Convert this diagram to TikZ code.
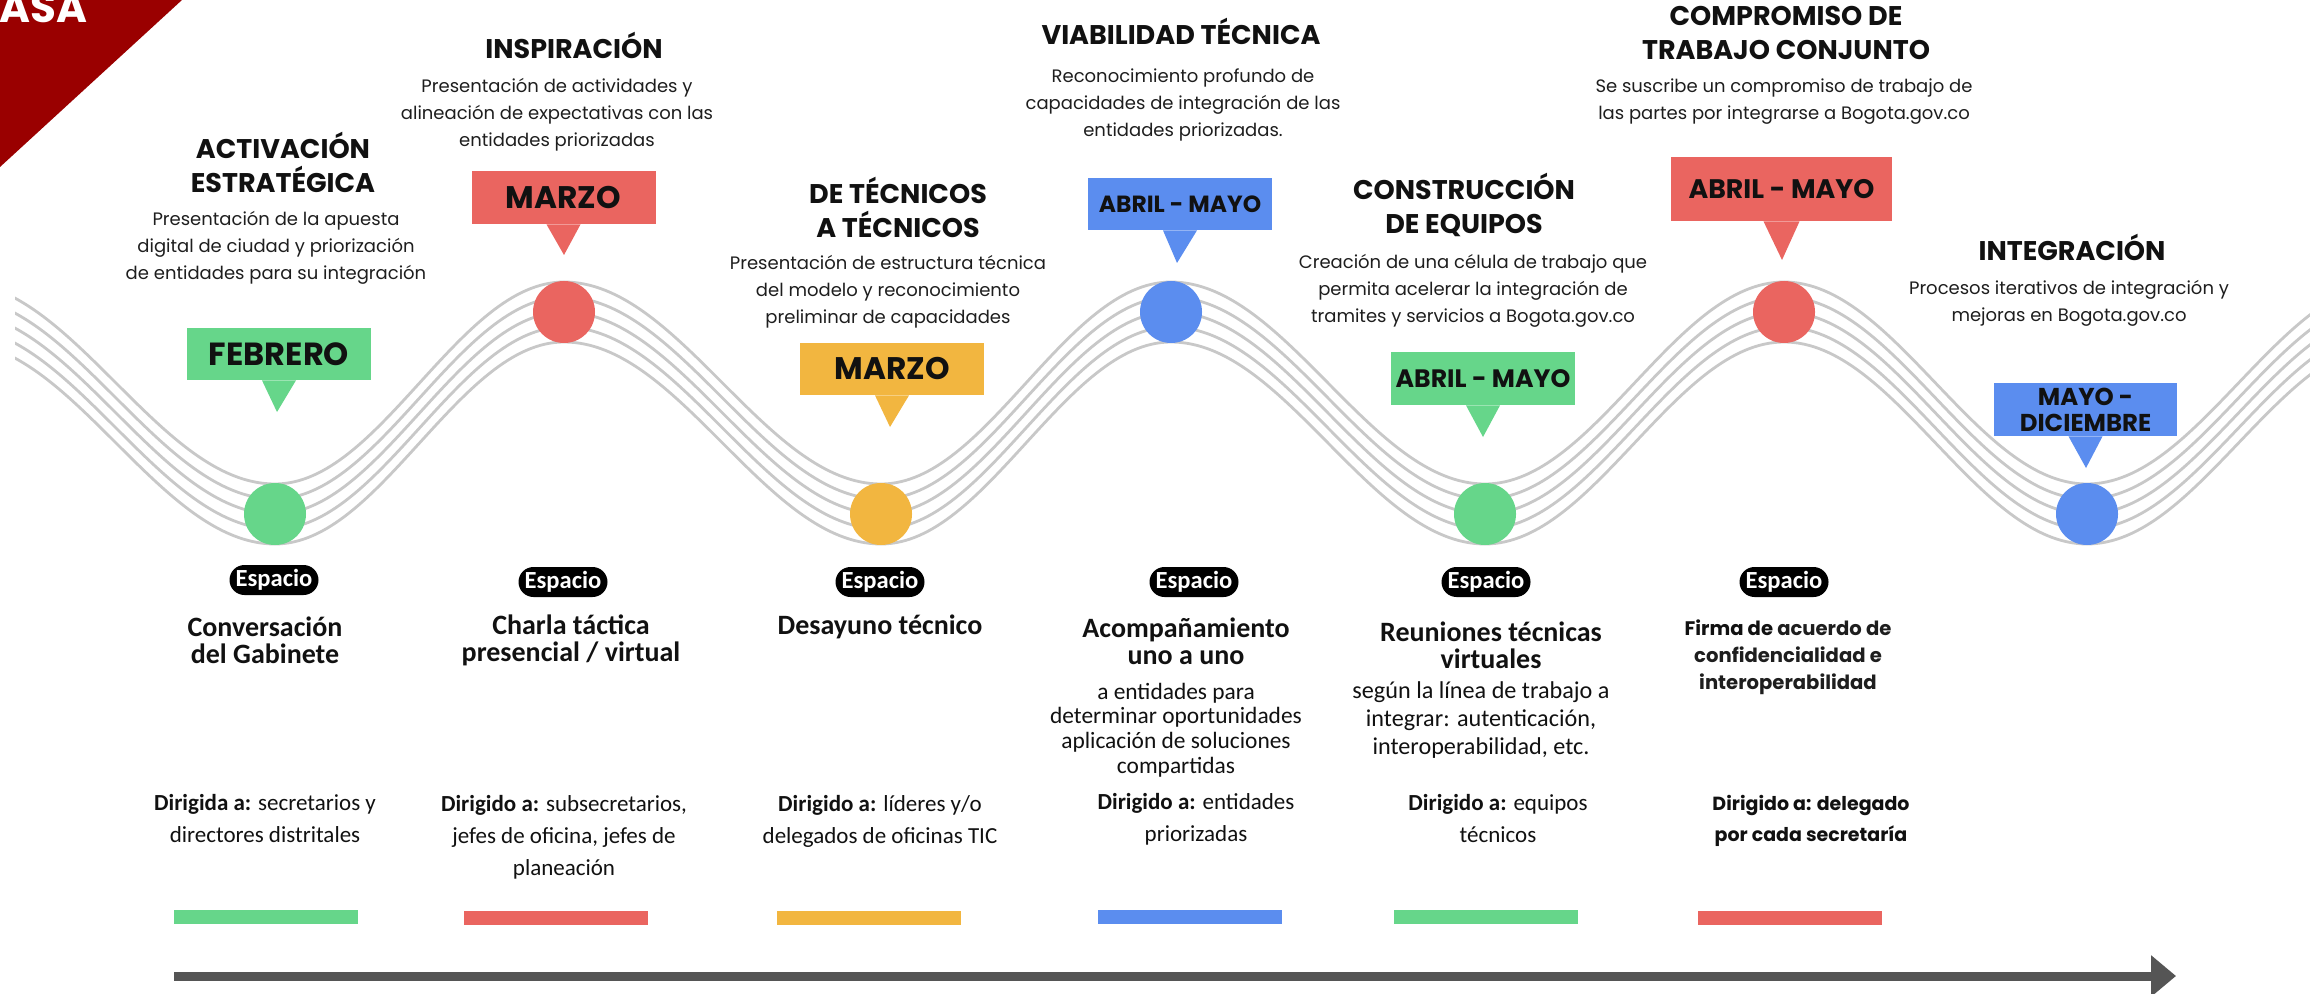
\documentclass[tikz,border=0pt]{standalone}
\usepackage{fontspec}
\setmainfont{Poppins}
\newfontfamily\descfam{Poppins}
\newfontfamily\condfam{Carlito}
\usetikzlibrary{arrows.meta}
\definecolor{cgreen}{HTML}{66D68A}
\definecolor{cred}{HTML}{EA6560}
\definecolor{cyellow}{HTML}{F2B640}
\definecolor{cblue}{HTML}{5B8DEF}
\definecolor{darkred}{HTML}{9A0000}
\definecolor{wavegray}{HTML}{C8C8C8}
\definecolor{agray}{HTML}{555555}
\definecolor{ink}{HTML}{111111}
\definecolor{ink2}{HTML}{1E1E1E}
\tikzset{
  titletxt/.style={font=\bfseries\fontsize{13.5}{17}\selectfont, align=center, text=ink, inner sep=0pt},
  desctxt/.style={font=\descfam\fontsize{9}{13.5}\selectfont, align=center, text=ink2, inner sep=0pt},
  callout/.style={minimum width=92pt, minimum height=26pt, inner sep=0pt, text=ink, font=\bfseries\fontsize{15.6}{15.6}\selectfont},
  dot/.style={circle, minimum size=31pt, inner sep=0pt},
  wave/.style={draw=wavegray, line width=1.4pt},
  pill/.style={fill=black, text=white, rounded corners=7.5pt, minimum width=44.5pt, minimum height=15pt, inner sep=0pt, font=\condfam\bfseries\fontsize{12.3}{12.3}\selectfont},
  subtxt/.style={font=\condfam\bfseries\fontsize{14}{13.5}\selectfont, align=center, text=ink, inner sep=0pt},
  sub2txt/.style={font=\condfam\fontsize{11.7}{12.3}\selectfont, align=center, text=ink, inner sep=0pt},
  dirtxt/.style={font=\condfam\fontsize{11.5}{16}\selectfont, align=center, text=ink, inner sep=0pt},
  firmatxt/.style={font=\bfseries\fontsize{9.8}{13.5}\selectfont, align=center, text=ink, inner sep=0pt},
  bar/.style={minimum width=92pt, minimum height=7pt, inner sep=0pt},
}
\begin{document}
\begin{tikzpicture}[x=0.5pt, y=-0.5pt]
\useasboundingbox (0,0) rectangle (2310,994);
\fill[white] (0,0) rectangle (2310,994);

% top-left corner
\fill[darkred] (0,0) -- (182,0) -- (0,167) -- cycle;
\begin{scope}
\clip (0,0) rectangle (2310,994);
\node[anchor=base west, inner sep=0pt, text=white, font=\bfseries\fontsize{21}{21}\selectfont] (asa) at (-1,23) {ASA};
\end{scope}

% wave
\begin{scope}
\clip (15,0) rectangle (2310,994);
\foreach \d in {-30,-15,0,15,30}{
  \draw[wave] (-43,312+\d) cos (116,413+\d) sin (275,514+\d) cos (419.5,413+\d) sin (564,312+\d)
    cos (722.5,413+\d) sin (881,514+\d) cos (1026,413+\d) sin (1171,312+\d)
    cos (1328,413+\d) sin (1485,514+\d) cos (1634.5,413+\d) sin (1784,312+\d)
    cos (1935.5,413+\d) sin (2087,514+\d) cos (2238.5,413+\d) sin (2390,312+\d);
}
\end{scope}

% dots
\node[dot, fill=cgreen] (c1) at (275,514) {};
\node[dot, fill=cred] (c2) at (564,312) {};
\node[dot, fill=cyellow] (c3) at (881,514) {};
\node[dot, fill=cblue] (c4) at (1171,312) {};
\node[dot, fill=cgreen] (c5) at (1485,514) {};
\node[dot, fill=cred] (c6) at (1784,312) {};
\node[dot, fill=cblue] (c7) at (2087,514) {};

% callouts
\node[callout, fill=cgreen, font=\bfseries\fontsize{16}{16}\selectfont] (m1) at (279,354) {FEBRERO};
\coordinate (m1t) at (277,412);
\fill[cgreen] ([xshift=-8.5pt]m1.south) -- ([xshift=8.5pt]m1.south) -- (m1t) -- cycle;

\node[callout, fill=cred, minimum height=26.5pt] (m2) at (563.5,197.5) {MARZO};
\coordinate (m2t) at (564,255);
\fill[cred] ([xshift=-8.5pt]m2.south) -- ([xshift=8.5pt]m2.south) -- (m2t) -- cycle;

\node[callout, fill=cyellow] (m3) at (892,369) {MARZO};
\coordinate (m3t) at (890,427);
\fill[cyellow] ([xshift=-8.5pt]m3.south) -- ([xshift=8.5pt]m3.south) -- (m3t) -- cycle;

\node[callout, fill=cblue, font=\bfseries\fontsize{11.7}{11.7}\selectfont] (m4) at (1180,204) {ABRIL - MAYO};
\coordinate (m4t) at (1177,263);
\fill[cblue] ([xshift=-8.5pt]m4.south) -- ([xshift=8.5pt]m4.south) -- (m4t) -- cycle;

\node[callout, fill=cgreen, minimum height=26.5pt, font=\bfseries\fontsize{12.6}{12.6}\selectfont] (m5) at (1483,378.5) {ABRIL - MAYO};
\coordinate (m5t) at (1483,437);
\fill[cgreen] ([xshift=-8.5pt]m5.south) -- ([xshift=8.5pt]m5.south) -- (m5t) -- cycle;

\node[callout, fill=cred, minimum width=110.5pt, minimum height=32pt, font=\bfseries\fontsize{13.4}{13.4}\selectfont] (m6) at (1781.5,189) {ABRIL - MAYO};
\coordinate (m6t) at (1782,260);
\fill[cred] ([xshift=-9pt]m6.south) -- ([xshift=9pt]m6.south) -- (m6t) -- cycle;

\node[callout, fill=cblue, minimum width=91.5pt, minimum height=26.5pt, align=center, font=\bfseries\fontsize{12.2}{13}\selectfont] (m7) at (2085.5,409.5) {MAYO -\\DICIEMBRE};
\coordinate (m7t) at (2086,468);
\fill[cblue] ([xshift=-8.5pt]m7.south) -- ([xshift=8.5pt]m7.south) -- (m7t) -- cycle;

% titles and descriptions
\node[titletxt] (t1) at (283,162) {ACTIVACIÓN\\ESTRATÉGICA};
\node[desctxt] (d1) at (276,248) {Presentación de la apuesta\\digital de ciudad y priorización\\de entidades para su integración};
\node[titletxt] (t2) at (574,45) {INSPIRACIÓN};
\node[desctxt] (d2) at (557,115) {Presentación de actividades y\\alineación de expectativas con las\\entidades priorizadas};
\node[titletxt] (t3) at (898,207) {DE TÉCNICOS\\A TÉCNICOS};
\node[desctxt] (d3) at (888,292) {Presentación de estructura técnica\\del modelo y reconocimiento\\preliminar de capacidades};
\node[titletxt] (t4) at (1181,31) {VIABILIDAD TÉCNICA};
\node[desctxt] (d4) at (1183,105) {Reconocimiento profundo de\\capacidades de integración de las\\entidades priorizadas.};
\node[titletxt] (t5) at (1464,205) {CONSTRUCCIÓN\\DE EQUIPOS};
\node[desctxt] (d5) at (1473,291) {Creación de una célula de trabajo que\\permita acelerar la integración de\\tramites y servicios a Bogota.gov.co};
\node[titletxt] (t6) at (1786,33) {COMPROMISO DE\\TRABAJO CONJUNTO};
\node[desctxt] (d6) at (1784,102) {Se suscribe un compromiso de trabajo de\\las partes por integrarse a Bogota.gov.co};
\node[titletxt] (t7) at (2072,247) {INTEGRACIÓN};
\node[desctxt] (d7) at (2069,303) {Procesos iterativos de integración y\\mejoras en Bogota.gov.co};

% bottom: pills
\node[pill] (p1) at (274,580) {Espacio};
\node[pill] (p2) at (563,582) {Espacio};
\node[pill] (p3) at (880,582) {Espacio};
\node[pill] (p4) at (1194,582) {Espacio};
\node[pill] (p5) at (1486,582) {Espacio};
\node[pill] (p6) at (1784,582) {Espacio};

% bottom: names
\node[subtxt] (s1) at (265,640) {Conversación\\del Gabinete};
\node[subtxt] (s2) at (571,640) {Charla táctica\\presencial / virtual};
\node[subtxt] (s3) at (880,627) {Desayuno técnico};
\node[subtxt] (s4) at (1186,641) {Acompañamiento\\uno a uno};
\node[sub2txt] (e4) at (1176,730) {a entidades para\\determinar oportunidades\\aplicación de soluciones\\compartidas};
\node[subtxt] (s5) at (1491,645) {Reuniones técnicas\\virtuales};
\node[sub2txt, font=\condfam\fontsize{12.1}{13.8}\selectfont] (e5) at (1481,720) {según la línea de trabajo a\\integrar: autenticación,\\interoperabilidad, etc.};
\node[firmatxt] (s6) at (1788,657) {Firma de {\color{ink2}acuerdo de}\\{\color{ink2}confidencialidad e}\\{\color{ink2}interoperabilidad}};

% bottom: audiences
\node[dirtxt] (r1) at (265,819) {\textbf{Dirigida a:} secretarios y\\directores distritales};
\node[dirtxt] (r2) at (564,837) {\textbf{Dirigido a:} subsecretarios,\\jefes de oficina, jefes de\\planeación};
\node[dirtxt] (r3) at (880,821) {\textbf{Dirigido a:} líderes y/o\\delegados de oficinas TIC};
\node[dirtxt] (r4) at (1196,819) {\textbf{Dirigido a:} entidades\\priorizadas};
\node[dirtxt] (r5) at (1498,819) {\textbf{Dirigido a:} equipos\\técnicos};
\node[firmatxt, font=\bfseries\fontsize{9.5}{15.5}\selectfont] (r6) at (1811,821) {Dirigido a: delegado\\por cada secretaría};

% bars
\node[bar, fill=cgreen] (b1) at (266,917) {};
\node[bar, fill=cred] (b2) at (556,918) {};
\node[bar, fill=cyellow] (b3) at (869,918) {};
\node[bar, fill=cblue] (b4) at (1190,917) {};
\node[bar, fill=cgreen] (b5) at (1486,917) {};
\node[bar, fill=cred] (b6) at (1790,918) {};

% arrow
\coordinate (as) at (174,976);
\coordinate (ae) at (2176,976);
\draw[line width=4.5pt, agray, -{Triangle[length=12.5pt,width=20pt]}] (as) -- (ae);
\end{tikzpicture}
\end{document}
